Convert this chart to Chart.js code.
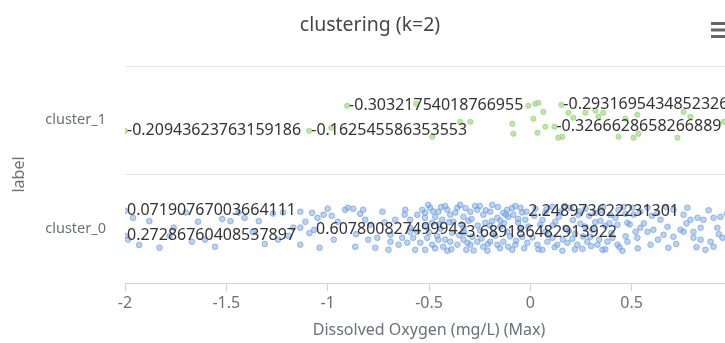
<!DOCTYPE html>
<html>
<head>
<meta charset="utf-8">
<title>clustering (k=2)</title>
<script src="https://cdn.jsdelivr.net/npm/chart.js@4.4.1/dist/chart.umd.min.js"></script>
<style>
  html, body { margin: 0; padding: 0; background: #fff; }
  body { width: 725px; height: 343px; overflow: hidden; }
  #wrap { width: 740px; height: 343px; }
  #clusterChart { width: 740px; height: 343px; display: block; }
</style>
</head>
<body>
<div id="wrap"><canvas id="clusterChart" width="740" height="343"></canvas></div>
<script>
// Categorías del eje y
const categories = ['cluster_0', 'cluster_1'];
const xTicks = [-2, -1.5, -1, -0.5, 0, 0.5, 1];

// Puntos [x, y]; los primeros llevan etiqueta
const cluster0Points = [
    [-2.0, 0.166], [-2.0, -0.065], [-1.067, -0.01], [-0.326, -0.037], [-0.02, 0.157],
    [-1.96, 0.10], [-1.88, 0.07], [-1.985, -0.10], [-1.93, -0.15], [-1.83, -0.175],
    [-1.76, 0.01], [-1.70, 0.15], [-1.67, -0.12], [-1.78, -0.065], [-1.64, 0.065],
    [-1.605, -0.10], [-1.556, -0.166], [-1.52, 0.09], [-1.48, 0.07], [-1.44, 0.15],
    [-1.41, 0.10], [-1.37, -0.03], [-1.34, 0.07], [-1.31, -0.14], [-1.27, 0.14],
    [-1.245, -0.10], [-1.22, 0.15], [-1.195, -0.065], [-1.17, 0.01], [-1.135, 0.01],
    [-1.135, 0.157], [-1.135, -0.147], [-1.077, 0.147], [-1.05, 0.10], [-1.02, 0.13],
    [-1.00, 0.185], [-0.97, -0.10], [-0.95, 0.065], [-1.11, 0.065], [-1.04, -0.175],
    [-0.914, 0.175], [-0.90, 0.194], [-0.874, 0.185], [-0.825, 0.175], [-0.815, 0.083],
    [-0.84, 0.138], [-0.80, -0.10], [-0.765, -0.175], [-0.755, -0.083], [-0.73, 0.157],
    [-0.69, -0.12], [-0.69, -0.055], [-0.667, 0.083], [-0.65, -0.147], [-0.632, -0.083],
    [-0.617, 0.175], [-0.607, -0.129], [-0.593, 0.083], [-0.593, -0.028], [-0.593, 0.009],
    [-0.578, -0.083], [-0.568, -0.194], [-0.558, 0.129], [-0.558, -0.028], [-0.864, -0.166],
    [-0.79, 0.037], [-0.70, -0.194], [-1.09, -0.04], [-0.98, 0.12], [-0.86, -0.05],
    [-0.72, 0.06], [-0.62, 0.13],
    [-0.533, 0.175], [-0.519, 0.147], [-0.494, 0.194], [-0.469, 0.11], [-0.454, 0.157],
    [-0.435, 0.083], [-0.41, 0.175], [-0.395, 0.129], [-0.36, 0.194], [-0.33, 0.11],
    [-0.296, 0.157], [-0.262, 0.175], [-0.232, 0.129], [-0.198, 0.157], [-0.163, 0.101],
    [-0.133, 0.147], [-0.109, 0.11], [-0.114, 0.175], [-0.084, 0.129], [-0.049, 0.194],
    [-0.025, 0.083], [-0.504, 0.22], [-0.42, 0.21], [-0.346, 0.22], [-0.272, 0.21],
    [-0.188, 0.22], [-0.074, 0.21], [-0.38, 0.065], [-0.306, 0.074], [-0.222, 0.055],
    [-0.148, 0.074], [-0.484, 0.055], [-0.06, 0.055],
    [-0.519, 0.018], [-0.33, 0.009], [-0.148, 0.018], [-0.114, -0.028], [-0.444, 0.0],
    [-0.385, -0.037], [-0.247, -0.018], [-0.198, 0.028], [-0.049, -0.009],
    [-0.543, -0.129], [-0.509, -0.083], [-0.484, -0.147], [-0.454, -0.101], [-0.43, -0.166],
    [-0.395, -0.12], [-0.36, -0.147], [-0.33, -0.101], [-0.296, -0.147], [-0.262, -0.12],
    [-0.232, -0.166], [-0.198, -0.12], [-0.163, -0.147], [-0.133, -0.12], [-0.109, -0.166],
    [-0.074, -0.147], [-0.015, -0.129], [-0.519, -0.194], [-0.41, -0.203], [-0.316, -0.194],
    [-0.212, -0.203], [-0.089, -0.194], [-0.46, -0.065], [-0.286, -0.074], [-0.173, -0.065],
    [-0.04, -0.074],
    [-0.52, 0.10], [-0.50, -0.03], [-0.48, 0.16], [-0.47, -0.18], [-0.45, 0.04],
    [-0.44, 0.20], [-0.42, -0.10], [-0.40, 0.06], [-0.39, -0.19], [-0.37, 0.15],
    [-0.35, -0.06], [-0.34, 0.04], [-0.32, 0.19], [-0.31, -0.13], [-0.29, 0.09],
    [-0.28, -0.20], [-0.26, 0.03], [-0.25, 0.21], [-0.24, -0.09], [-0.22, 0.17],
    [-0.21, -0.14], [-0.19, 0.07], [-0.18, -0.04], [-0.16, 0.20], [-0.15, -0.18],
    [-0.13, 0.05], [-0.12, 0.13], [-0.10, -0.07], [-0.09, 0.19], [-0.07, -0.11],
    [-0.06, 0.09], [-0.04, 0.15], [-0.03, -0.18], [-0.01, 0.02],
    [0.025, 0.185], [0.074, 0.147], [0.109, 0.203], [0.148, 0.157], [0.198, 0.194],
    [0.237, 0.129], [0.272, 0.185], [0.321, 0.147], [0.36, 0.203], [0.395, 0.129],
    [0.435, 0.175], [0.469, 0.138], [0.504, 0.194], [0.543, 0.157],
    [0.049, 0.037], [0.123, 0.065], [0.173, 0.009], [0.247, 0.046], [0.306, -0.009],
    [0.37, 0.028], [0.43, 0.037], [0.479, 0.055], [0.519, -0.028], [0.074, -0.028],
    [0.222, -0.046], [0.346, 0.074],
    [0.035, -0.147], [0.084, -0.12], [0.133, -0.147], [0.183, -0.129], [0.232, -0.147],
    [0.281, -0.12], [0.331, -0.147], [0.38, -0.12], [0.43, -0.147], [0.479, -0.12],
    [0.528, -0.083], [0.059, -0.194], [0.158, -0.203], [0.257, -0.185], [0.356, -0.194],
    [0.454, -0.203], [0.109, -0.083], [0.207, -0.092], [0.296, -0.074], [0.405, -0.083],
    [0.01, -0.08], [0.02, 0.12], [0.04, -0.19], [0.06, 0.08], [0.08, 0.18],
    [0.09, -0.06], [0.11, 0.03], [0.12, -0.17], [0.14, 0.11], [0.16, -0.10],
    [0.17, 0.21], [0.19, -0.02], [0.21, 0.08], [0.22, -0.19], [0.24, 0.16],
    [0.26, -0.07], [0.27, 0.02], [0.29, 0.12], [0.30, -0.16], [0.32, 0.06],
    [0.34, -0.10], [0.35, 0.17], [0.37, -0.19], [0.39, 0.05], [0.40, -0.04],
    [0.42, 0.10], [0.44, -0.17], [0.46, 0.20], [0.47, -0.07], [0.49, 0.04],
    [0.51, 0.13], [0.53, -0.18],
    [0.578, 0.194], [0.627, 0.147], [0.706, 0.175], [0.775, 0.194], [0.825, 0.101],
    [0.854, 0.083], [0.904, 0.101], [0.938, 0.11], [0.923, 0.009], [0.84, 0.009],
    [0.543, 0.009], [0.607, -0.009], [0.677, 0.018], [0.741, -0.009], [0.805, -0.028],
    [0.578, -0.028], [0.657, -0.055], [0.706, -0.074], [0.756, -0.028], [0.805, -0.083],
    [0.84, -0.101], [0.889, -0.12], [0.904, -0.166], [0.948, -0.083], [0.756, 0.129],
    [0.79, 0.083], [0.593, -0.147], [0.681, -0.175], [0.864, -0.194], [0.978, 0.037],
    [0.642, 0.083], [0.56, 0.05], [0.60, 0.12], [0.63, -0.10], [0.67, 0.20],
    [0.72, -0.14], [0.77, 0.05], [0.82, -0.17], [0.88, 0.17], [0.93, -0.05], [0.97, 0.14]
];
const cluster0Labels = [
    '0.07190767003664111', '0.27286760408537897', '0.607800827499942',
    '3.689186482913922', '2.248973622231301'
];

const cluster1Points = [
    [-2.0, 0.903], [-1.091, 0.903], [-0.904, 1.134], [0.153, 1.143], [0.119, 0.94],
    [-0.01, 1.134], [0.025, 1.152], [0.04, 1.161], [0.064, 1.078], [0.015, 1.014],
    [-0.089, 0.968], [-0.084, 0.876], [0.035, 0.885], [0.074, 0.94], [0.138, 0.839],
    [0.158, 0.848], [0.188, 1.069], [0.212, 1.023], [0.272, 1.069], [0.336, 1.032],
    [0.36, 1.069], [0.435, 0.848], [0.509, 0.839], [0.533, 0.876], [0.528, 1.051],
    [0.469, 1.014], [0.726, 0.839], [0.79, 1.032], [0.756, 1.078], [0.953, 0.986],
    [-0.346, 0.986], [-0.296, 0.986], [-0.484, 0.848], [-0.983, 0.931], [-0.563, 1.152],
    [0.321, 1.088]
];
const cluster1Labels = [
    '-0.20943623763159186', '-0.162545586353553', '-0.30321754018766955',
    '-0.2931695434852326', '-0.3266628658266889'
];

const FONT = '"Noto Sans", "Open Sans", sans-serif';

// Título, icono de menú y etiquetas de los puntos
const overlayPlugin = {
    id: 'overlay',
    afterDatasetsDraw(chart) {
        const ctx = chart.ctx;
        ctx.save();
        ctx.font = '16px ' + FONT;
        ctx.fillStyle = '#333';
        ctx.textAlign = 'left';
        ctx.textBaseline = 'middle';
        const groups = [cluster0Labels, cluster1Labels];
        groups.forEach((labels, di) => {
            const meta = chart.getDatasetMeta(di);
            labels.forEach((txt, i) => {
                const el = meta.data[i];
                ctx.fillText(txt, el.x + 2, el.y);
            });
        });

        ctx.font = '19.5px ' + FONT;
        ctx.fillStyle = '#464646';
        ctx.textAlign = 'center';
        ctx.fillText('clustering (k=2)', 370, 25);

        ctx.fillStyle = '#666';
        [22, 28.5, 35].forEach(y => ctx.fillRect(711, y, 17, 3));
        ctx.restore();
    }
};

new Chart(document.getElementById('clusterChart'), {
    type: 'scatter',
    data: {
        datasets: [
            {
                label: categories[0],
                data: cluster0Points.map(p => ({ x: p[0], y: p[1] })),
                backgroundColor: 'rgba(120, 165, 232, 0.5)',
                borderColor: 'rgba(110, 158, 230, 0.7)',
                borderWidth: 1,
                pointRadius: 2.8
            },
            {
                label: categories[1],
                data: cluster1Points.map(p => ({ x: p[0], y: p[1] })),
                backgroundColor: 'rgba(160, 222, 130, 0.7)',
                borderColor: 'rgba(150, 215, 120, 0.8)',
                borderWidth: 1,
                pointRadius: 2.6
            }
        ]
    },
    options: {
        responsive: false,
        animation: false,
        layout: { padding: { left: 0, right: 7, top: 66, bottom: 0 } },
        plugins: {
            legend: { display: false },
            tooltip: { enabled: false }
        },
        scales: {
            x: {
                type: 'linear',
                min: -2,
                max: 1,
                afterBuildTicks: scale => {
                    scale.ticks = xTicks.map(v => ({ value: v }));
                },
                afterFit: scale => {
                    scale.height = 60;
                    scale.paddingLeft = 0;
                    scale.paddingRight = 0;
                },
                border: { display: true, color: '#ccd3e0' },
                grid: {
                    drawOnChartArea: false,
                    drawTicks: true,
                    tickLength: 8,
                    color: '#ccd3e0'
                },
                ticks: {
                    padding: 3,
                    color: '#6e7079',
                    font: { family: FONT, size: 16 },
                    maxRotation: 0,
                    autoSkip: false,
                    callback: v => String(v)
                },
                title: {
                    display: true,
                    text: 'Dissolved Oxygen (mg/L) (Max)',
                    color: '#6e7079',
                    font: { family: FONT, size: 16 },
                    padding: { top: 2, bottom: 3 }
                }
            },
            y: {
                type: 'linear',
                min: -0.5,
                max: 1.5,
                afterBuildTicks: scale => {
                    scale.ticks = [-0.5, 0, 0.5, 1, 1.5].map(v => ({ value: v }));
                },
                afterFit: scale => { scale.width = 125; },
                border: { display: false },
                grid: {
                    drawTicks: false,
                    color: ctx => {
                        const v = ctx.tick && ctx.tick.value;
                        return (v === 0.5 || v === 1.5) ? '#e3e6ec' : 'rgba(0,0,0,0)';
                    }
                },
                ticks: {
                    padding: 19,
                    color: '#6e7079',
                    font: { family: FONT, size: 14.5 },
                    callback: v => (v === 0 ? categories[0] : v === 1 ? categories[1] : '')
                },
                title: {
                    display: true,
                    text: 'label',
                    color: '#6e7079',
                    font: { family: FONT, size: 16 },
                    padding: { top: 10, bottom: 0 }
                }
            }
        }
    },
    plugins: [overlayPlugin]
});
</script>
</body>
</html>
